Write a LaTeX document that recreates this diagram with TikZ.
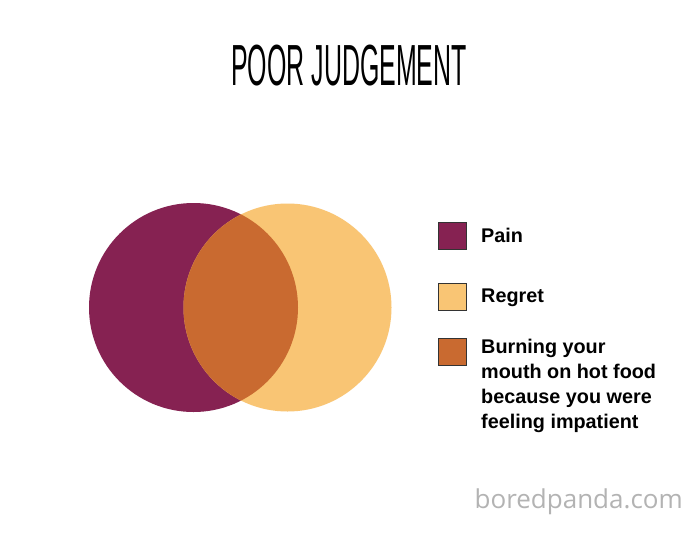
\documentclass[tikz,border=0pt]{standalone}
\usepackage{fontspec}
\setmainfont{Liberation Sans}
\newfontfamily\wmfont{Open Sans}
\definecolor{painc}{HTML}{862252}
\definecolor{regretc}{HTML}{F9C574}
\definecolor{burnc}{HTML}{C96A30}
\definecolor{wmc}{HTML}{B3B3B3}
\tikzset{
  legbox/.style={draw=black!80, line width=0.8pt, minimum width=28pt, minimum height=27pt, inner sep=0pt},
  legtext/.style={anchor=base west, inner sep=0pt, font=\fontsize{19.8}{25}\selectfont\bfseries, align=left},
}
\begin{document}
\begin{tikzpicture}[x=1pt,y=-1pt]
\useasboundingbox (0,0) rectangle (700,536);
\fill[white] (0,0) rectangle (700,536);
% title
\node[anchor=base, inner sep=0pt, font=\fontsize{58}{58}\selectfont, xscale=0.43] (title) at (349,85) {POOR JUDGEMENT};
% circles
\node[circle, fill=painc, minimum size=209pt, inner sep=0pt] (pain) at (193.5,307.5) {};
\node[circle, fill=regretc, minimum size=208pt, inner sep=0pt] (regret) at (287.5,307.5) {};
\begin{scope}
  \clip (193.5,307.5) circle (104.5);
  \fill[burnc] (287.5,307.5) circle (104);
\end{scope}
% legend
\node[legbox, fill=painc] (b1) at (452.5,235.5) {};
\node[legbox, fill=regretc] (b2) at (452.5,297) {};
\node[legbox, fill=burnc] (b3) at (452.5,352) {};
\node[legtext] (t1) at (481,242) {Pain};
\node[legtext] (t2) at (481,302) {Regret};
\node[legtext, anchor=north west] (t3) at (481,338.5) {Burning your\\mouth on hot food\\because you were\\feeling impatient};
% watermark
\node[anchor=base east, inner sep=0pt, font=\wmfont\fontsize{26}{26}\selectfont, text=wmc] (wm) at (683,508) {boredpanda.com};
\end{tikzpicture}
\end{document}
